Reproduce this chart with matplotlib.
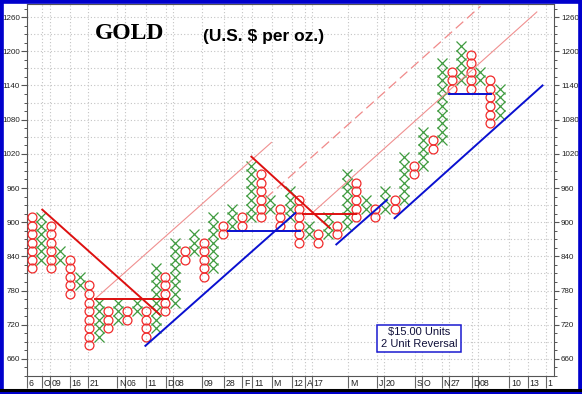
import matplotlib
matplotlib.use("Agg")
import numpy as np
import matplotlib.pyplot as plt
from matplotlib import transforms
from matplotlib.patches import Rectangle
from matplotlib.lines import Line2D
from matplotlib.ticker import MultipleLocator

plt.rcParams['font.family'] = ['Liberation Sans', 'DejaVu Sans']

BOX = 15  # $15.00 units

# point & figure columns: kind, lowest box, highest box
kinds = ['O', 'X'] * 25
lows = [810, 825, 810, 825, 765, 780, 675, 690, 705, 720,
        720, 735, 690, 705, 735, 750, 825, 840, 795, 810,
        870, 885, 885, 900, 900, 915, 885, 900, 855, 870,
        855, 870, 870, 885, 900, 915, 900, 915, 915, 930,
        975, 990, 1020, 1035, 1125, 1140, 1125, 1140, 1065, 1080]
highs = [900, 900, 885, 840, 825, 795, 780, 750, 735, 750,
         735, 750, 735, 810, 795, 855, 840, 870, 855, 900,
         885, 915, 900, 990, 975, 930, 915, 945, 930, 885,
         870, 900, 885, 975, 960, 930, 915, 945, 930, 1005,
         990, 1050, 1035, 1170, 1155, 1200, 1185, 1155, 1140, 1125]

# date markers along the bottom (column position, label)
date_pos = [-0.5, 1.05, 1.92, 4.01, 5.93, 8.96, 9.77, 11.94, 14.03, 14.83,
            17.86, 20.14, 22.05, 23.09, 25.13, 27.23, 28.62, 29.32, 33.15, 36.19,
            36.89, 40.14, 40.84, 42.93, 43.73, 46.07, 46.77, 50.01, 51.94, 53.86]
date_labels = ['6', 'O', '09', '16', '21', 'N', '06', '11', 'D', '08',
               '09', '28', 'F', '11', 'M', '12', 'A', '17', 'M', 'J',
               '20', 'S', 'O', 'N', '27', 'D', '08', '10', '13', '1']

# trend lines: ((col, price), (col, price))
red_trend = [((1.1, 922), (13.4, 738)), ((23.0, 1015), (31.2, 890))]
red_flat = [((6.6, 765), (14.3, 765)), ((28.4, 915), (34.0, 915))]
pink_trend = [((6.6, 765), (25.1, 1040)), ((29.3, 915), (52.9, 1269))]
pink_dashed = [((24.5, 942), (47.0, 1279))]
blue_trend = [((11.9, 683), (27.6, 916)), ((31.9, 861), (37.2, 939)),
              ((38.0, 907), (53.5, 1140))]
blue_flat = [((20.6, 885), (28.1, 885)), ((43.7, 1125), (48.1, 1125))]

fig = plt.figure(figsize=(5.82, 3.94), dpi=100)
fig.patch.set_facecolor('white')
ax = fig.add_axes([27 / 582, 18 / 394, 527 / 582, 372 / 394])
ax.set_xlim(-0.5, 54.7)
ax.set_ylim(630, 1283)

grid_c = '#c4c4c4'
for y in np.arange(660, 1283, 30):
    ax.axhline(y, color=grid_c, lw=0.8, ls=(0, (1, 2)), zorder=0)
ax.set_xticks(date_pos)
ax.set_xticklabels([])
ax.grid(True, axis='x', color=grid_c, lw=0.8, ls=(0, (1, 2)), zorder=0)
ax.set_axisbelow(True)

# X and O columns
for i, (k, lo, hi) in enumerate(zip(kinds, lows, highs)):
    ys = np.arange(lo, hi + BOX, BOX) + BOX * 0.6
    xs = np.full(len(ys), i)
    if k == 'X':
        ax.plot(xs, ys, ls='none', marker='x', ms=6.9, mew=0.9,
                color='#3f9b3f', zorder=3)
    else:
        ax.plot(xs, ys, ls='none', marker='o', ms=6.4, mew=0.9,
                mfc='none', mec='#f02a2a', zorder=3)

for (x0, y0), (x1, y1) in pink_trend:
    ax.plot([x0, x1], [y0, y1], color='#f09090', lw=0.8, zorder=4)
for (x0, y0), (x1, y1) in pink_dashed:
    ax.plot([x0, x1], [y0, y1], color='#f08a8a', lw=0.9, ls=(0, (8, 4)), zorder=4)
for (x0, y0), (x1, y1) in red_trend + red_flat:
    ax.plot([x0, x1], [y0, y1], color='#dd1010', lw=1.4, zorder=5)
for (x0, y0), (x1, y1) in blue_trend + blue_flat:
    ax.plot([x0, x1], [y0, y1], color='#0a10d0', lw=1.4, zorder=5)

# axes styling
for s in ax.spines.values():
    s.set_color('#555555')
    s.set_linewidth(0.8)
ax.tick_params(axis='x', length=8.6, width=0.8, color='#666666')
ax.yaxis.set_major_locator(MultipleLocator(60))
ax.yaxis.set_minor_locator(MultipleLocator(15))
ax.tick_params(axis='y', which='major', length=4.3, width=0.8, color='#555555',
               labelsize=5.8, labelcolor='#222222', pad=0.8)
ax.tick_params(axis='y', which='minor', length=2.2, width=0.7, color='#555555')

ax2 = ax.twinx()
ax2.set_ylim(ax.get_ylim())
ax2.yaxis.set_major_locator(MultipleLocator(60))
ax2.yaxis.set_minor_locator(MultipleLocator(15))
ax2.tick_params(axis='y', which='major', length=3.5, width=0.8, color='#555555',
                labelsize=5.8, labelcolor='#222222', pad=1.6)
ax2.tick_params(axis='y', which='minor', length=2.0, width=0.7, color='#555555')
for s in ax2.spines.values():
    s.set_visible(False)

off = transforms.ScaledTranslation(0.016, 0, fig.dpi_scale_trans)
trans = transforms.blended_transform_factory(ax.transData, ax.transAxes) + off
for x, lab in zip(date_pos, date_labels):
    ax.text(x, -0.0196, lab, transform=trans, ha='left', va='center',
            fontsize=6.3, color='#222222', clip_on=False)

# titles
fig.text(130 / 582, 1 - 39.3 / 394, 'GOLD', family='Liberation Serif',
         weight='bold', fontsize=17, ha='center', va='baseline')
fig.text(203 / 582, 1 - 41.3 / 394, r'(U.S. \$ per oz.)', weight='bold',
         fontsize=12.5, ha='left', va='baseline')

# unit box
fig.add_artist(Rectangle((376.7 / 582, 1 - 351.7 / 394), 84.3 / 582, 26.7 / 394,
                         transform=fig.transFigure, facecolor='white',
                         edgecolor='#1a1ad0', lw=1.1, zorder=6))
fig.text(419 / 582, 1 - 331.7 / 394, r'\$15.00 Units', fontsize=8,
         ha='center', va='center', color='#10103a', zorder=7)
fig.text(419 / 582, 1 - 344.3 / 394, '2 Unit Reversal', fontsize=8,
         ha='center', va='center', color='#10103a', zorder=7)

# frame
fig.add_artist(Line2D([0, 1], [1 - 389.5 / 394] * 2, transform=fig.transFigure,
                      color='black', lw=2.2))
fig.add_artist(Rectangle((0, 0), 1, 1, transform=fig.transFigure, fill=False,
                         edgecolor='#0000cc', lw=5.5))

fig.savefig('out.png', dpi=100)
